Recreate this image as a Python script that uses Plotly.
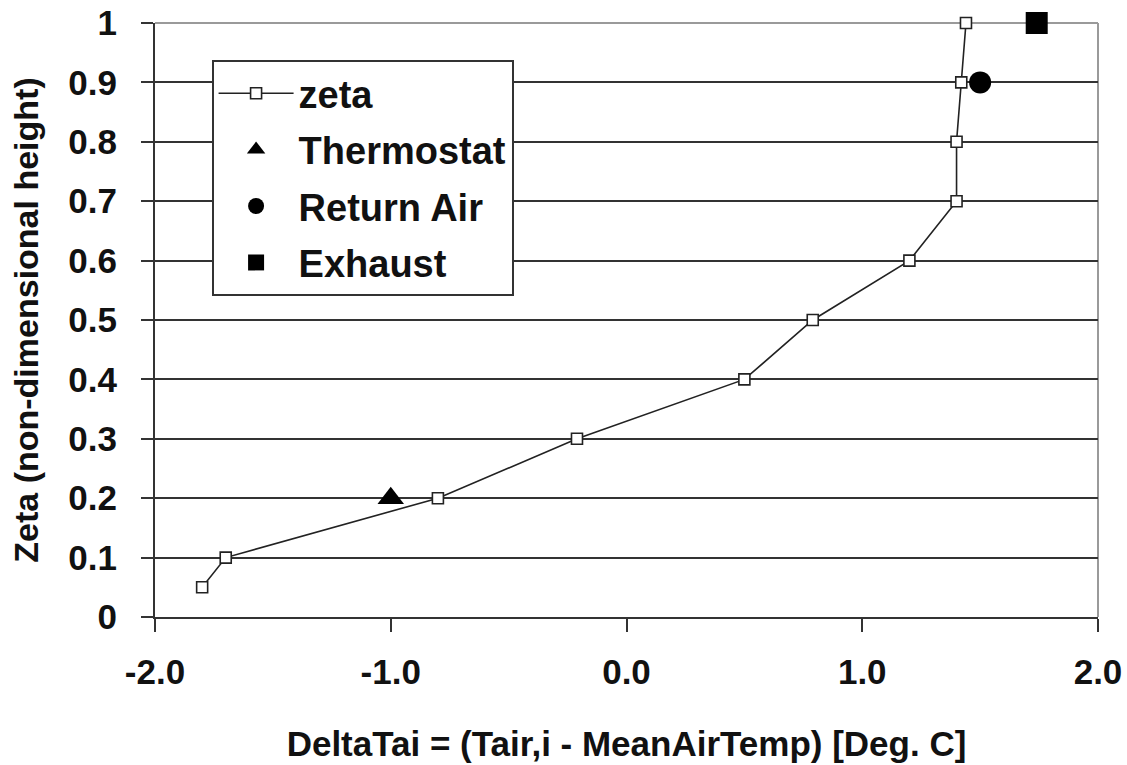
import plotly.graph_objects as go

# Vertical air-temperature profile (zeta) plus sensor readings
zeta_dt = [-1.80, -1.70, -0.80, -0.21, 0.50, 0.79, 1.20, 1.40, 1.40, 1.42, 1.44]
zeta_h = [0.05, 0.10, 0.20, 0.30, 0.40, 0.50, 0.60, 0.70, 0.80, 0.90, 1.00]

thermostat_dt = [-1.00]
thermostat_h = [0.20]

return_air_dt = [1.50]
return_air_h = [0.90]

exhaust_dt = [1.74]
exhaust_h = [1.00]

x_ticks = [-2.0, -1.0, 0.0, 1.0, 2.0]
x_tick_text = ["-2.0", "-1.0", "0.0", "1.0", "2.0"]
y_ticks = [0, 0.1, 0.2, 0.3, 0.4, 0.5, 0.6, 0.7, 0.8, 0.9, 1.0]
y_tick_text = ["0", "0.1", "0.2", "0.3", "0.4", "0.5", "0.6", "0.7", "0.8", "0.9", "1"]

FONT = "Liberation Sans, Arial, sans-serif"
INK = "#111111"

fig = go.Figure()

fig.add_trace(go.Scatter(
    x=zeta_dt, y=zeta_h, name="zeta", mode="lines+markers", legendgroup="g1",
    line=dict(color="#222222", width=1.6),
    marker=dict(symbol="square", size=11, color="white",
                line=dict(color="#222222", width=1.6)),
    cliponaxis=False,
))
fig.add_trace(go.Scatter(
    x=thermostat_dt, y=thermostat_h, name="Thermostat", mode="markers",
    legendgroup="g2",
    marker=dict(symbol="triangle-up", size=23, color="black"),
    cliponaxis=False,
))
fig.add_trace(go.Scatter(
    x=return_air_dt, y=return_air_h, name="Return Air", mode="markers",
    legendgroup="g3",
    marker=dict(symbol="circle", size=22, color="black"),
    cliponaxis=False,
))
fig.add_trace(go.Scatter(
    x=exhaust_dt, y=exhaust_h, name="Exhaust", mode="markers",
    legendgroup="g4",
    marker=dict(symbol="square", size=22, color="black"),
    cliponaxis=False,
))

# light frame on the top and right edges of the plotting area
fig.add_shape(type="line", xref="paper", yref="paper", x0=0, x1=1, y0=1, y1=1,
              line=dict(color="#9a9a9a", width=2), layer="between")
fig.add_shape(type="line", xref="paper", yref="paper", x0=1, x1=1, y0=0, y1=1,
              line=dict(color="#9a9a9a", width=2), layer="between")

fig.update_layout(
    width=1127, height=765,
    margin=dict(l=155, r=29, t=23, b=148),
    paper_bgcolor="white", plot_bgcolor="white",
    font=dict(family=FONT, color=INK),
    showlegend=True,
    legend=dict(
        x=0.060, y=0.9377, xanchor="left", yanchor="top",
        bgcolor="white", bordercolor="#333333", borderwidth=2,
        font=dict(family=FONT, size=38, color=INK, weight="bold"),
        itemwidth=75, tracegroupgap=4,
    ),
    xaxis=dict(
        range=[-2.0, 2.0], tickvals=x_ticks, ticktext=x_tick_text,
        showgrid=False, zeroline=False, automargin=False,
        showline=True, linecolor="#333333", linewidth=2,
        ticks="outside", ticklen=13, tickwidth=2, tickcolor="#333333",
        ticklabelstandoff=10,
        tickfont=dict(family=FONT, size=35, color=INK, weight="bold"),
        title=dict(text="DeltaTai = (Tair,i - MeanAirTemp) [Deg. C]",
                   font=dict(family=FONT, size=35, color=INK, weight="bold"),
                   standoff=41),
    ),
    yaxis=dict(
        range=[0, 1.0], tickvals=y_ticks, ticktext=y_tick_text,
        showgrid=True, gridcolor="#333333", gridwidth=2,
        zeroline=False, automargin=False,
        showline=True, linecolor="#333333", linewidth=2,
        ticks="outside", ticklen=12, tickwidth=2, tickcolor="#333333",
        ticklabelstandoff=17,
        tickfont=dict(family=FONT, size=35, color=INK, weight="bold"),
        title=dict(text="Zeta (non-dimensional height)",
                   font=dict(family=FONT, size=34, color=INK, weight="bold"),
                   standoff=19),
    ),
)

fig.write_html("out.html")
